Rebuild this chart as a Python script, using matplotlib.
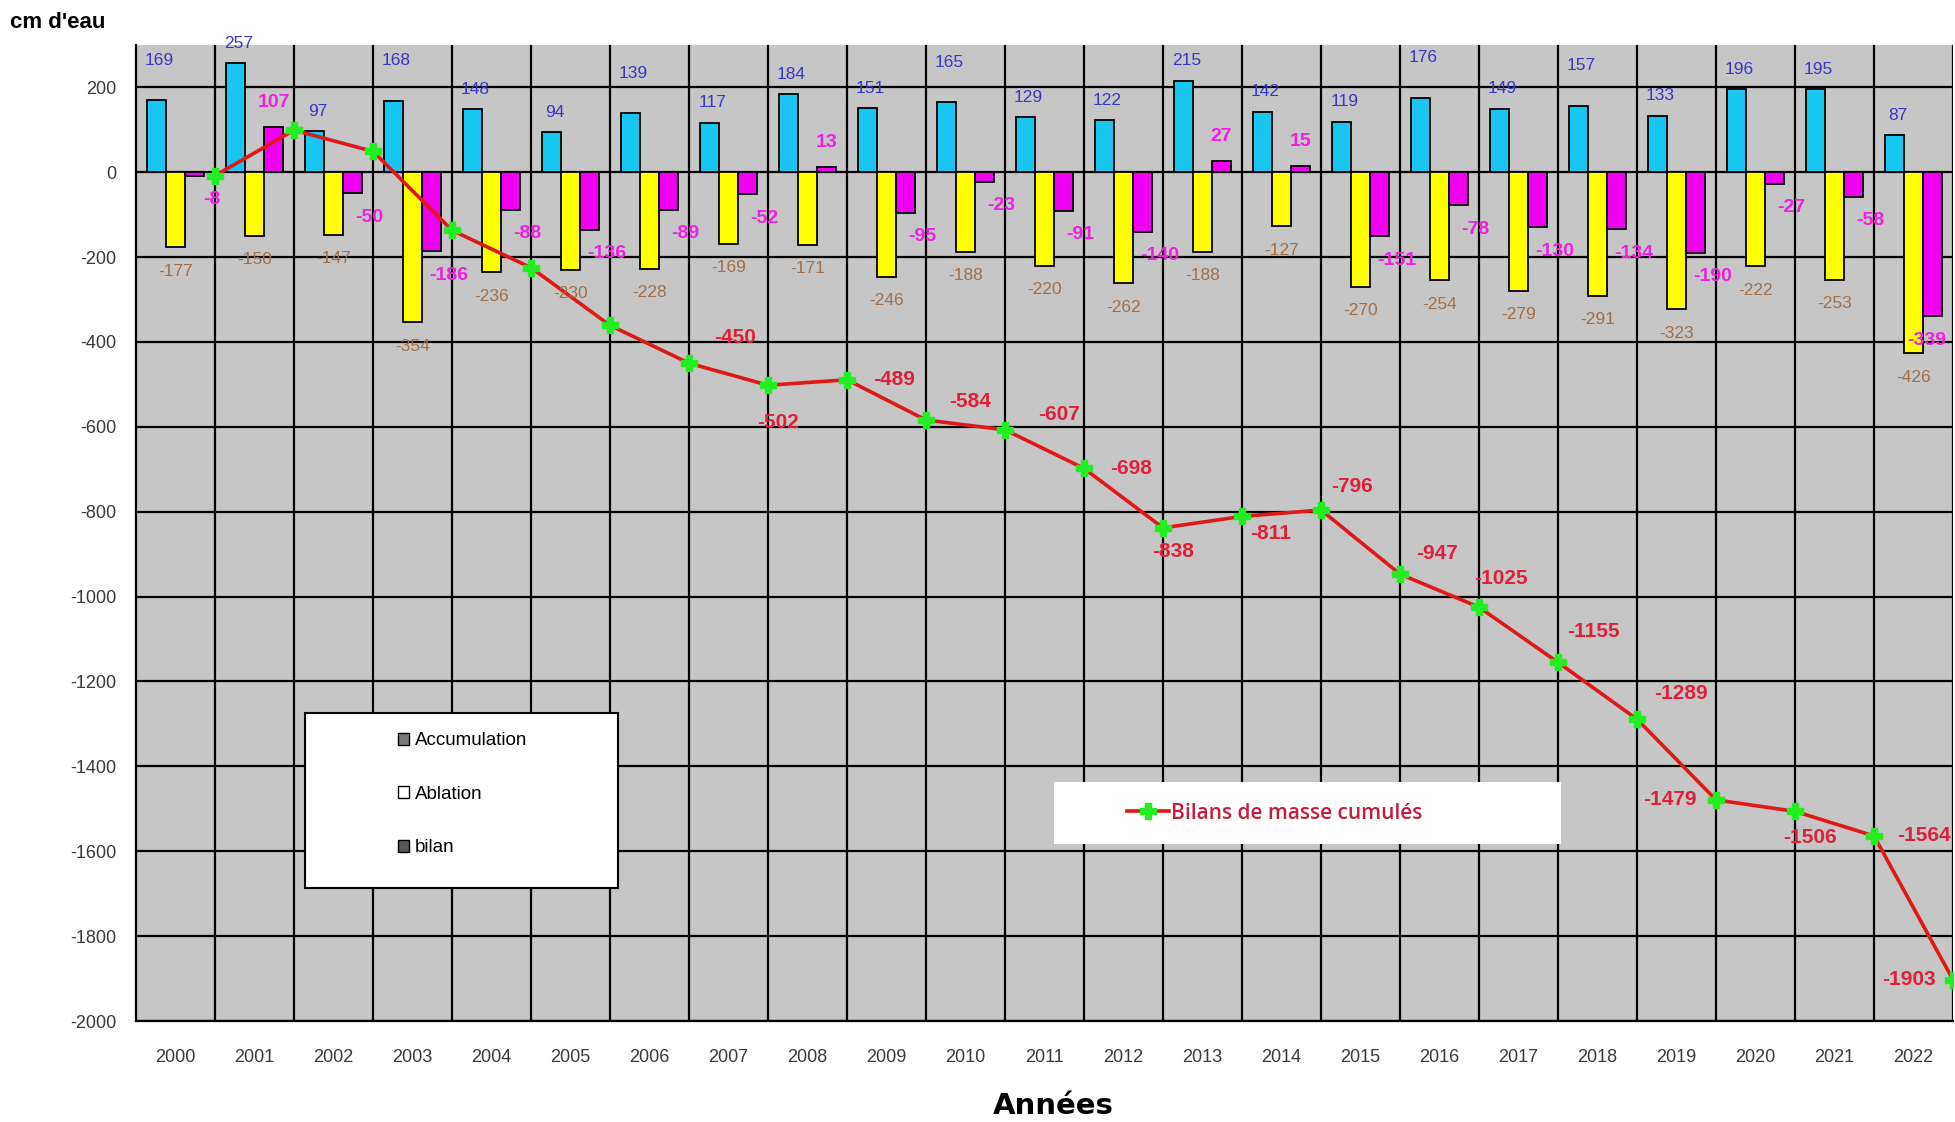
import numpy as np
import matplotlib.pyplot as plt
from matplotlib.patches import Patch, Rectangle
from matplotlib.lines import Line2D

plt.rcParams['font.family'] = ['Liberation Sans', 'DejaVu Sans']
plt.rcParams['axes.unicode_minus'] = False

years = [str(y) for y in range(2000, 2023)]
accumulation = [169, 257, 97, 168, 148, 94, 139, 117, 184, 151, 165, 129,
                122, 215, 142, 119, 176, 149, 157, 133, 196, 195, 87]
ablation = [-177, -150, -147, -354, -236, -230, -228, -169, -171, -246, -188,
            -220, -262, -188, -127, -270, -254, -279, -291, -323, -222, -253, -426]
bilan = [-8, 107, -50, -186, -88, -136, -89, -52, 13, -95, -23, -91, -140,
         27, 15, -151, -78, -130, -134, -190, -27, -58, -339]
cumul = [-8, 99, 49, -137, -225, -361, -450, -502, -489, -584, -607, -698,
         -838, -811, -796, -947, -1025, -1155, -1289, -1479, -1506, -1564, -1903]

# label placement tweaks (pixels), None = no label
cum_off = [None] * 6 + [(46, 26), (10, -37), (47, 0), (44, 19), (54, 15),
                        (47, 0), (10, -24), (29, -17), (31, 24), (37, 21),
                        (22, 29), (35, 31), (44, 26), (-46, 0), (15, -26),
                        (50, 0), (-44, 0)]
acc_high = {0, 3, 6, 10, 16, 18}

fig = plt.figure(figsize=(19.55, 11.22), dpi=100)
ax = fig.add_axes([0.0696, 0.090, 0.9294, 0.870])
ax.set_facecolor('#c6c6c6')

x = np.arange(len(years))
w = 0.24
ax.bar(x - w, accumulation, w, color='#19c6f2', edgecolor='black', lw=1.3, zorder=3)
ax.bar(x, ablation, w, color='#ffff00', edgecolor='black', lw=1.3, zorder=3)
ax.bar(x + w, bilan, w, color='#f000f0', edgecolor='black', lw=1.3, zorder=3)

ax.plot(x + 0.5, cumul, color='#e01818', lw=2.6, marker='P', ms=11,
        mfc='#22ee22', mec='#22ee22', zorder=5)

last = len(years) - 1
for i in range(len(years)):
    dy = 40 if i in acc_high else 20
    ax.annotate(str(accumulation[i]), (x[i] - w, accumulation[i]), xytext=(3, dy),
                textcoords='offset pixels', ha='center', va='center',
                fontsize=12.5, color='#3838c8', zorder=6)
    ax.annotate(str(ablation[i]), (x[i], ablation[i]), xytext=(0, -24),
                textcoords='offset pixels', ha='center', va='center',
                fontsize=12.5, color='#a0704a', zorder=6)
    if bilan[i] >= 0:
        off = (0, 24)
    elif i == last:
        off = (-6, -24)
    else:
        off = (17, -24)
    ax.annotate(str(bilan[i]), (x[i] + w, bilan[i]), xytext=off,
                textcoords='offset pixels', ha='center', va='center',
                fontsize=14, color='#f020e0', fontweight='bold', zorder=6)
    if cum_off[i] is not None:
        ax.annotate(str(cumul[i]), (x[i] + 0.5, cumul[i]), xytext=cum_off[i],
                    textcoords='offset pixels', ha='center', va='center',
                    fontsize=15, color='#e0203a', fontweight='bold', zorder=6,
                    annotation_clip=False)

ax.set_xlim(-0.5, len(years) - 0.5)
ax.set_ylim(-2000, 300)
ax.set_xticks(x)
ax.set_xticklabels(years)
ax.set_yticks(np.arange(-2000, 201, 200))
ax.tick_params(length=0, labelsize=13, labelcolor='#3a3a3a')
ax.tick_params(axis='x', pad=20)
ax.tick_params(axis='y', pad=14)

for b in np.arange(0.5, len(years), 1.0):
    ax.axvline(b, color='black', lw=1.6, zorder=1)
for v in np.arange(-2000, 201, 200):
    ax.axhline(v, color='black', lw=1.6, zorder=1)

ax.spines['top'].set_visible(False)
ax.spines['right'].set_visible(False)
ax.spines['left'].set_linewidth(1.6)
ax.spines['bottom'].set_linewidth(1.6)

fig.text(0.005, 0.980, "cm d'eau", fontsize=16, fontweight='bold', va='center')
fig.text(0.539, 0.014, "Années", fontsize=21, fontweight='bold', ha='center',
         va='center', family='DejaVu Sans')

# bar legend
ax.add_patch(Rectangle((0.093, 0.136), 0.172, 0.180, transform=ax.transAxes,
                       facecolor='white', edgecolor='black', lw=1.5, zorder=7))
handles = [Patch(facecolor='#7a7a7a', edgecolor='black'),
           Patch(facecolor='white', edgecolor='black'),
           Patch(facecolor='#555555', edgecolor='black')]
leg1 = ax.legend(handles, ['Accumulation', 'Ablation', 'bilan'],
                 loc='upper left', bbox_to_anchor=(0.135, 0.313), frameon=False,
                 fontsize=13.5, handlelength=0.6, handleheight=0.6,
                 handletextpad=0.3, labelspacing=1.95)
leg1.set_zorder(8)
ax.add_artist(leg1)

# line legend
ax.add_patch(Rectangle((0.505, 0.181), 0.279, 0.064, transform=ax.transAxes,
                       facecolor='white', edgecolor='none', zorder=7))
h2 = Line2D([], [], color='#e01818', lw=2.6, marker='P', ms=11,
            mfc='#22ee22', mec='#22ee22')
leg2 = ax.legend([h2], ['Bilans de masse cumulés'], loc='center left',
                 bbox_to_anchor=(0.535, 0.213), frameon=False,
                 prop={'family': 'Open Sans', 'size': 15, 'weight': 'semibold'},
                 handlelength=2.0, handletextpad=0.1)
for t in leg2.get_texts():
    t.set_color('#c81e3c')
leg2.set_zorder(8)

fig.savefig('out.png', dpi=100)
